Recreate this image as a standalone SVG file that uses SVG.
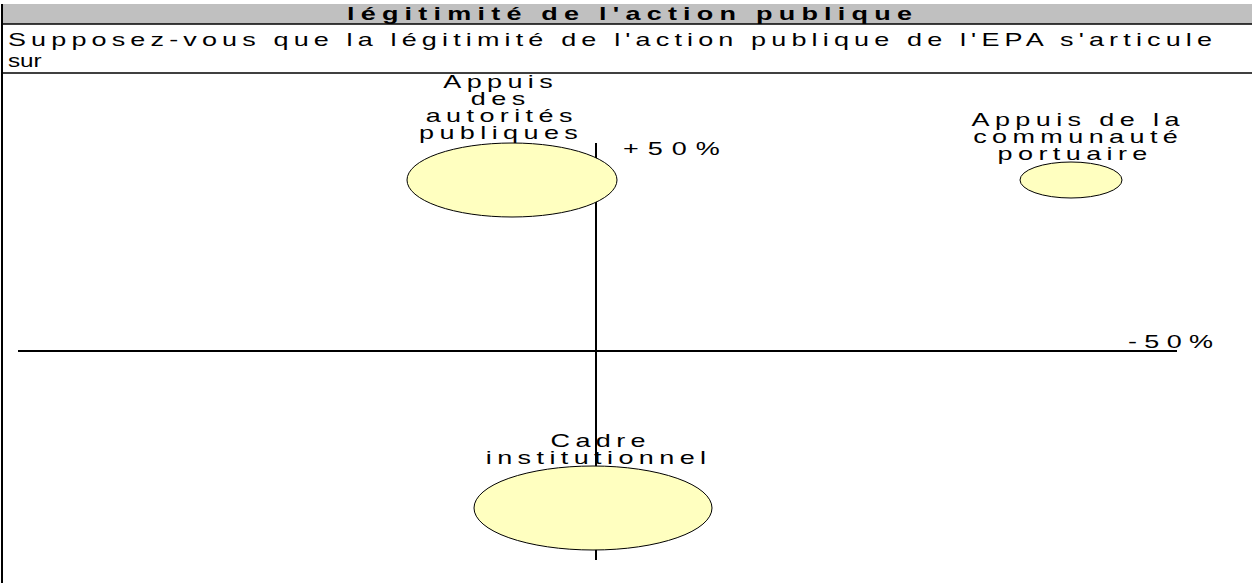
<svg xmlns="http://www.w3.org/2000/svg" width="1252" height="583" viewBox="0 0 1252 583">
<style>
.t{font-family:"Liberation Sans",Arial,sans-serif;font-size:18px;fill:#000;letter-spacing:3.6px}
.h{font-family:"Liberation Sans",Arial,sans-serif;font-size:18px;fill:#000}
.b{font-weight:bold}
.node ellipse{fill:#ffffc0;stroke:#000;stroke-width:1}
.ax{stroke:#000;stroke-width:2;fill:none}
</style>
<rect x="0" y="0" width="1252" height="583" fill="#fff"/>
<g id="header">
<rect x="2" y="4" width="1250" height="20" fill="#c0c0c0"/>
<line x1="2" y1="24" x2="1252" y2="24" stroke="#000" stroke-width="1.5"/>
<line x1="2" y1="73" x2="1252" y2="73" stroke="#000" stroke-width="1.5"/>
<line x1="2" y1="4" x2="2" y2="583" stroke="#000" stroke-width="2"/>
<g transform="scale(1.5,1)">
<text class="h b" x="231.3" y="20" textLength="376.7" lengthAdjust="spacing">légitimité de l'action publique</text>
<text class="h" x="5.3" y="46" textLength="802.7" lengthAdjust="spacing">Supposez-vous que la légitimité de l'action publique de l'EPA s'articule</text>
<text class="h" x="5.3" y="67" textLength="22.5" lengthAdjust="spacingAndGlyphs">sur</text>
</g>
</g>
<g id="labels" transform="scale(1.5,1)">
<text class="t" text-anchor="middle" y="88"><tspan x="333.8">Appuis</tspan><tspan x="333.8" dy="17">des</tspan><tspan x="334.5" dy="17">autorités</tspan><tspan x="334.1" dy="17">publiques</tspan></text>
<text class="t" text-anchor="middle" y="126"><tspan x="718.8">Appuis de la</tspan><tspan x="718.8" dy="17">communauté</tspan><tspan x="716.8" dy="17">portuaire</tspan></text>
<text class="t" text-anchor="middle" y="447"><tspan x="400.5">Cadre</tspan><tspan x="399.1" dy="17">institutionnel</tspan></text>
<text class="t" x="415.3" y="155" style="letter-spacing:6px">+50%</text>
<text class="t" x="752" y="348" style="letter-spacing:4.9px">-50%</text>
</g>
<g id="connectors">
<line class="ax" x1="596" y1="143" x2="596" y2="560"/>
<line class="ax" x1="18" y1="351" x2="1177" y2="351"/>
</g>
<g id="node-autorites" class="node"><ellipse cx="512" cy="180" rx="105" ry="37"/></g>
<g id="node-communaute" class="node"><ellipse cx="1071" cy="180" rx="51" ry="18"/></g>
<g id="node-cadre" class="node"><ellipse cx="593" cy="508" rx="119" ry="42"/></g>
</svg>
